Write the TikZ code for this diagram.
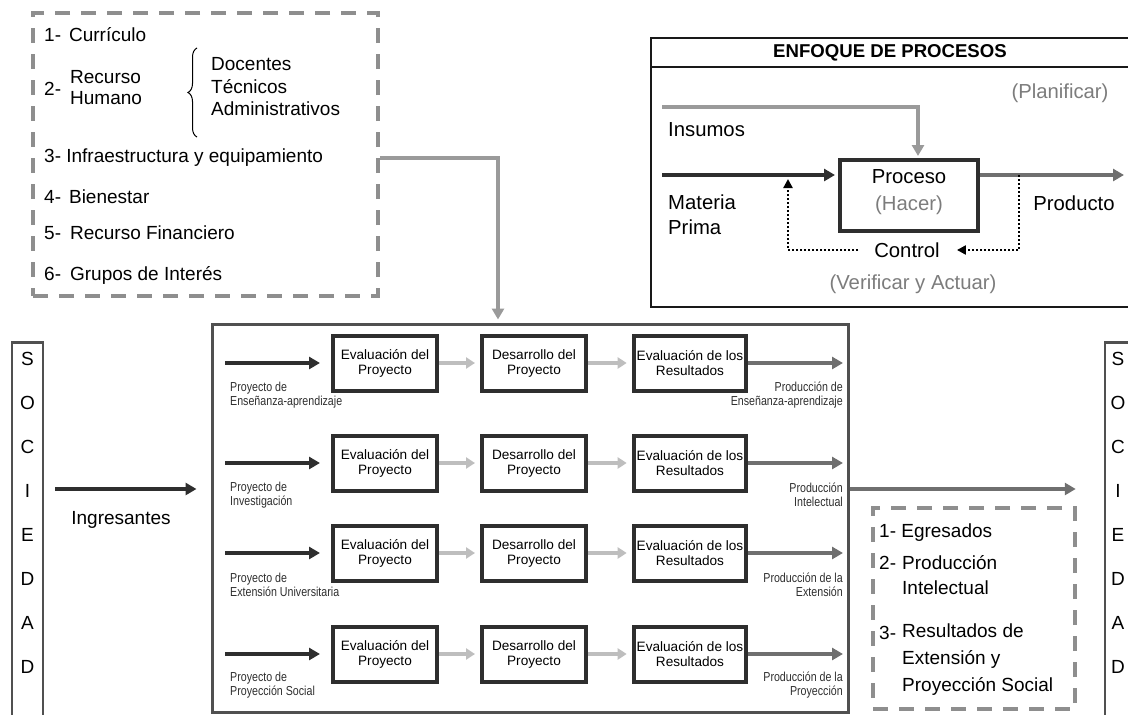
\documentclass[tikz,border=0pt]{standalone}
\usepackage{fontspec}
\setmainfont{Liberation Sans}
\newfontfamily\narrowfont[FakeStretch=0.82]{Liberation Sans}
\usetikzlibrary{arrows.meta,positioning,decorations.pathreplacing}

\definecolor{inkdark}{HTML}{2E2E2E}
\definecolor{boxgray}{HTML}{505050}
\definecolor{outgray}{HTML}{6F6F6F}
\definecolor{ingray}{HTML}{9A9A9A}
\definecolor{feedgray}{HTML}{BEBEBE}
\definecolor{dashgray}{HTML}{8E8E8E}
\definecolor{wordgray}{HTML}{7C7C7C}

\newcommand{\bigtxt}{\fontsize{19}{22}\selectfont}
\newcommand{\enftxt}{\fontsize{20.3}{25}\selectfont}
\newcommand{\boxtxt}{\fontsize{13.6}{15}\selectfont}
\newcommand{\lbltxt}{\narrowfont\fontsize{13}{14.5}\selectfont}

\begin{document}
\begin{tikzpicture}[x=1pt,y=-1pt,
	every node/.style={inner sep=0pt,font=\bigtxt},
	procbox/.style={draw=inkdark,line width=4pt,minimum width=104pt,minimum height=55pt,inner xsep=3pt,align=center,font=\boxtxt},
	dashbox/.style={draw=dashgray,line width=3.5pt,dash pattern=on 15pt off 11pt},
	socbox/.style={draw=boxgray,line width=2.5pt},
	darrow/.style={draw=inkdark,line width=4.5pt,-{Triangle[length=11pt,width=12pt]}},
	garrow/.style={draw=outgray,line width=4pt,-{Triangle[length=11pt,width=12pt]}},
	inarrow/.style={draw=ingray,line width=4pt,-{Triangle[length=11pt,width=12pt]}},
	larrow/.style={draw=feedgray,line width=4pt,-{Triangle[length=9pt,width=11pt]},shorten >=5pt},
	dotarrow/.style={draw=black,line width=2.2pt,dash pattern=on 2pt off 2pt,-{Triangle[length=9pt,width=9pt]}},
	lbl/.style={font=\lbltxt,text=inkdark,align=left,anchor=west},
	lblr/.style={font=\lbltxt,text=inkdark,align=right,anchor=east}
]
	\useasboundingbox (0,0) rectangle (1128,715);

	% recursos
	\node[dashbox,minimum width=345pt,minimum height=283pt] (recursos) at (205.5,154.5) {};
	\node[anchor=west] (cur) at (44,35) {1-\hspace{8pt}Currículo};
	\node[anchor=west] (rh) at (44,89) {2-};
	\node[anchor=west,align=left,font=\fontsize{19}{21}\selectfont] (rhtxt) at (70,88) {Recurso\\Humano};
	\draw[line width=1pt,decorate,decoration={brace,amplitude=9pt}] (197,137) -- (197,48);
	\node[anchor=west,align=left,font=\fontsize{19}{22.5}\selectfont] (pers) at (211,87) {Docentes\\Técnicos\\Administrativos};
	\node[anchor=west] (infra) at (44,158) {3- Infraestructura y equipamiento};
	\node[anchor=west] (bien) at (44,197) {4-\hspace{8pt}Bienestar};
	\node[anchor=west] (fin) at (44,233) {5-\hspace{9pt}Recurso Financiero};
	\node[anchor=west] (grp) at (44,275) {6-\hspace{9pt}Grupos de Interés};

	% enfoque de procesos
	\draw[draw=black!90,line width=1.5pt] (651,38) rectangle (1145,307);
	\draw[draw=black!90,line width=1.5pt] (651,67) -- (1145,67);
	\node[font=\bfseries\fontsize{18.6}{20}\selectfont] (ttl) at (890,53) {ENFOQUE DE PROCESOS};
	\node[font=\enftxt,text=wordgray] (plan) at (1060,93) {(Planificar)};
	\node[font=\enftxt,anchor=west] (ins) at (668,130) {Insumos};
	\node[font=\enftxt,anchor=west,align=left] (mat) at (668,214.5) {Materia\\Prima};
	\node[draw=inkdark,line width=4pt,minimum width=138pt,minimum height=71pt] (proc) at (909,195.5) {};
	\node[font=\enftxt] (proctxt) at (909,177) {Proceso};
	\node[font=\enftxt,text=wordgray] (hacer) at (909,205) {(Hacer)};
	\node[font=\enftxt] (prod) at (1074,203) {Producto};
	\node[font=\enftxt] (ctrl) at (907,250) {Control};
	\node[font=\enftxt,text=wordgray] (verif) at (913,284) {(Verificar y Actuar)};
	\coordinate (insin) at (662,107);
	\coordinate (matin) at (662,175);
	\coordinate (prodout) at (1124,175);
	\coordinate (fbR) at (1019,175);
	\coordinate (fbL) at (788,179);
	\draw[inarrow,shorten >=2pt] (insin) -| ([xshift=9pt]proc.north);
	\draw[darrow,shorten >=3pt] (matin) -- (matin -| proc.west);
	\draw[garrow] (matin -| proc.east) -- (prodout);
	\draw[dotarrow] (fbR) |- ([xshift=17pt]ctrl.east);
	\draw[dotarrow] ([xshift=-16pt]ctrl.west) -| (fbL);

	% nucleo
	\node[draw=boxgray,line width=3pt,minimum width=636pt,minimum height=388pt] (core) at (530,518) {};
	\coordinate (drop) at (498,158);
	\draw[inarrow,shorten >=3pt] (recursos.east |- drop) -| (drop |- core.north);

	% fila 1
	\node[procbox] (ev1) at (385,363) {Evaluación del\\Proyecto};
	\node[procbox] (de1) at (534,363) {Desarrollo del\\Proyecto};
	\node[procbox] (re1) at (690,363) {Evaluación de los\\Resultados};
	\coordinate (in1) at (225,363);
	\coordinate (out1) at (843,363);
	\draw[darrow,shorten >=11pt] (in1) -- (ev1);
	\draw[larrow] (ev1) -- (de1);
	\draw[larrow] (de1) -- (re1);
	\draw[garrow] (re1) -- (out1);
	\node[lbl] (pin1) at (230,395) {Proyecto de\\Enseñanza-aprendizaje};
	\node[lblr] (pout1) at (843,395) {Producción de\\Enseñanza-aprendizaje};

	% fila 2
	\node[procbox] (ev2) at (385,463) {Evaluación del\\Proyecto};
	\node[procbox] (de2) at (534,463) {Desarrollo del\\Proyecto};
	\node[procbox] (re2) at (690,463) {Evaluación de los\\Resultados};
	\coordinate (in2) at (225,463);
	\coordinate (out2) at (843,463);
	\draw[darrow,shorten >=11pt] (in2) -- (ev2);
	\draw[larrow] (ev2) -- (de2);
	\draw[larrow] (de2) -- (re2);
	\draw[garrow] (re2) -- (out2);
	\node[lbl] (pin2) at (230,495) {Proyecto de\\Investigación};
	\node[lblr] (pout2) at (843,495) {Producción\\Intelectual};

	% fila 3
	\node[procbox] (ev3) at (385,553) {Evaluación del\\Proyecto};
	\node[procbox] (de3) at (534,553) {Desarrollo del\\Proyecto};
	\node[procbox] (re3) at (690,553) {Evaluación de los\\Resultados};
	\coordinate (in3) at (225,553);
	\coordinate (out3) at (843,553);
	\draw[darrow,shorten >=11pt] (in3) -- (ev3);
	\draw[larrow] (ev3) -- (de3);
	\draw[larrow] (de3) -- (re3);
	\draw[garrow] (re3) -- (out3);
	\node[lbl] (pin3) at (230,585) {Proyecto de\\Extensión Universitaria};
	\node[lblr] (pout3) at (843,585) {Producción de la\\Extensión};

	% fila 4
	\node[procbox] (ev4) at (385,654) {Evaluación del\\Proyecto};
	\node[procbox] (de4) at (534,654) {Desarrollo del\\Proyecto};
	\node[procbox] (re4) at (690,654) {Evaluación de los\\Resultados};
	\coordinate (in4) at (225,654);
	\coordinate (out4) at (843,654);
	\draw[darrow,shorten >=11pt] (in4) -- (ev4);
	\draw[larrow] (ev4) -- (de4);
	\draw[larrow] (de4) -- (re4);
	\draw[garrow] (re4) -- (out4);
	\node[lbl] (pin4) at (230,685) {Proyecto de\\Proyección Social};
	\node[lblr] (pout4) at (843,685) {Producción de la\\Proyección};

	% sociedad
	\node[socbox,minimum width=31pt,minimum height=400pt,anchor=north] (socL) at (27.5,341) {};
	\node[align=center,font=\fontsize{19}{44}\selectfont] (letL) at (27.5,513) {S\\O\\C\\I\\E\\D\\A\\D};
	\node[socbox,minimum width=40pt,minimum height=400pt,anchor=north] (socR) at (1125,341) {};
	\node[align=center,font=\fontsize{19}{44}\selectfont] (letR) at (1118,513) {S\\O\\C\\I\\E\\D\\A\\D};
	\coordinate (ingin) at (55,489);
	\draw[darrow,shorten >=14pt] (ingin) -- (ingin -| core.west);
	\node (ingr) at (121,520) {Ingresantes};
	\draw[garrow,shorten >=28pt] (core.east |- ingin) -- (socR.west |- ingin);

	% resultados
	\node[dashbox,minimum width=202pt,minimum height=201pt] (egr) at (974,608.5) {};
	\node[anchor=west] (eg1) at (879,533) {1- Egresados};
	\node[anchor=west] (eg2) at (879,563) {2-};
	\node[anchor=west,align=left,font=\fontsize{19}{25}\selectfont] (eg2txt) at (902,575.5) {Producción\\Intelectual};
	\node[anchor=west] (eg3) at (879,633) {3-};
	\node[anchor=west,align=left,font=\fontsize{19}{27}\selectfont] (eg3txt) at (902,660) {Resultados de\\Extensión y\\Proyección Social};
\end{tikzpicture}
\end{document}
